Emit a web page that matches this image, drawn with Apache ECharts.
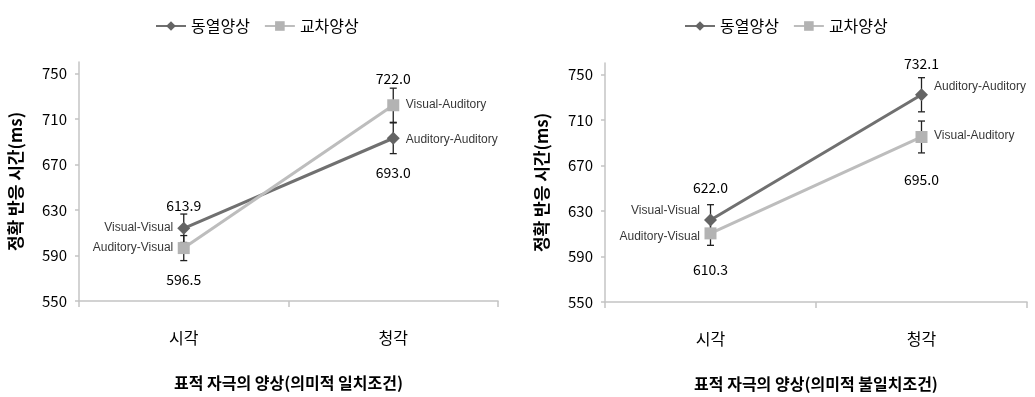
<!DOCTYPE html>
<html>
<head>
<meta charset="utf-8">
<script src="https://cdn.jsdelivr.net/npm/echarts@6/dist/echarts.min.js"></script>
<style>
  html, body { margin: 0; padding: 0; background: #fff; }
  #chart { width: 1035px; height: 397px; }
</style>
</head>
<body>
<div id="chart"></div>
<script>
// 공통 축 정보
const categories = ['시각', '청각'];
const seriesNames = ['동열양상', '교차양상'];
const yTicks = [550, 590, 630, 670, 710, 750];
const yTitle = '정확 반응 시간(ms)';
const xTitles = ['표적 자극의 양상(의미적 일치조건)', '표적 자극의 양상(의미적 불일치조건)'];

// 의미적 일치조건 (평균, 오차)
const congruentSame = [613.9, 693.0];
const congruentCross = [596.5, 722.0];
const congruentSameErr = [12.5, 13.5];
const congruentCrossErr = [11, 15];
const congruentSameNames = ['Visual-Visual', 'Auditory-Auditory'];
const congruentCrossNames = ['Auditory-Visual', 'Visual-Auditory'];

// 의미적 불일치조건 (평균, 오차)
const incongruentSame = [622.0, 732.1];
const incongruentCross = [610.3, 695.0];
const incongruentSameErr = [13.5, 15];
const incongruentCrossErr = [10.5, 14];
const incongruentSameNames = ['Visual-Visual', 'Auditory-Auditory'];
const incongruentCrossNames = ['Auditory-Visual', 'Visual-Auditory'];

// 라벨 배치 (값 라벨의 세로 이동, 조건명 라벨의 세로 이동)
const layout = [
  { sameValDy: [-23, 34], crossValDy: [32, -27], sameNameDy: [-1, 1], crossNameDy: [0, -1] },
  { sameValDy: [-32, -31], crossValDy: [36, 43], sameNameDy: [-9, -8], crossNameDy: [3, -1] }
];

const panels = [
  { same: congruentSame, cross: congruentCross, sameErr: congruentSameErr, crossErr: congruentCrossErr,
    sameNames: congruentSameNames, crossNames: congruentCrossNames },
  { same: incongruentSame, cross: incongruentCross, sameErr: incongruentSameErr, crossErr: incongruentCrossErr,
    sameNames: incongruentSameNames, crossNames: incongruentCrossNames }
];

const KR = '"Noto Sans CJK KR", "Noto Sans", sans-serif';
const EN = '"Liberation Sans", Arial, sans-serif';
const SAME_LINE = '#707070', SAME_MARK = '#646464';
const CROSS_LINE = '#bdbdbd', CROSS_MARK = '#b3b3b3';
const AXIS_COLOR = '#c4c4c4';

function lineSeries(idx, name, values, valDy, color, markColor, symbol, size) {
  return {
    type: 'line', name, xAxisIndex: idx, yAxisIndex: idx, z: 3,
    symbol, symbolSize: size, showAllSymbol: true,
    lineStyle: { color, width: 3 },
    itemStyle: { color: markColor },
    data: values.map((v, i) => ({
      value: v,
      label: {
        show: true, position: 'inside', offset: [0, valDy[i]],
        formatter: () => v.toFixed(1),
        fontFamily: KR, fontSize: 14, color: '#000'
      }
    }))
  };
}

function nameLabelSeries(idx, values, names, dys) {
  return {
    type: 'scatter', xAxisIndex: idx, yAxisIndex: idx, z: 4, silent: true,
    symbolSize: 1, itemStyle: { color: 'rgba(0,0,0,0)' },
    data: values.map((v, i) => ({
      value: [i, v],
      label: {
        show: true, position: i === 0 ? 'left' : 'right', distance: i === 0 ? 10 : 12,
        offset: [0, dys[i]], formatter: names[i],
        fontFamily: EN, fontSize: 12, color: '#000'
      }
    }))
  };
}

function errorBarSeries(idx, values, errs) {
  return {
    type: 'custom', xAxisIndex: idx, yAxisIndex: idx, z: 2, silent: true,
    data: values.map((v, i) => [i, v - errs[i], v + errs[i]]),
    encode: { x: 0, y: [1, 2] },
    renderItem(params, api) {
      const x = api.value(0);
      const lo = api.coord([x, api.value(1)]);
      const hi = api.coord([x, api.value(2)]);
      const w = 3.5;
      const style = { stroke: '#222', lineWidth: 1.3 };
      return {
        type: 'group',
        children: [
          { type: 'line', shape: { x1: lo[0], y1: lo[1], x2: hi[0], y2: hi[1] }, style },
          { type: 'line', shape: { x1: lo[0] - w, y1: lo[1], x2: lo[0] + w, y2: lo[1] }, style },
          { type: 'line', shape: { x1: hi[0] - w, y1: hi[1], x2: hi[0] + w, y2: hi[1] }, style }
        ]
      };
    }
  };
}

const grids = [
  { left: 79, top: 62, width: 419, height: 239 },
  { left: 605, top: 63, width: 422, height: 240 }
];

const series = [];
panels.forEach((p, idx) => {
  const L = layout[idx];
  series.push(errorBarSeries(idx, p.same, p.sameErr));
  series.push(errorBarSeries(idx, p.cross, p.crossErr));
  series.push(lineSeries(idx, seriesNames[0], p.same, L.sameValDy, SAME_LINE, SAME_MARK, 'diamond', 13));
  series.push(lineSeries(idx, seriesNames[1], p.cross, L.crossValDy, CROSS_LINE, CROSS_MARK, 'rect', 12));
  series.push(nameLabelSeries(idx, p.same, p.sameNames, L.sameNameDy));
  series.push(nameLabelSeries(idx, p.cross, p.crossNames, L.crossNameDy));
});

const legendBase = {
  top: 13, itemWidth: 30, itemHeight: 12, itemGap: 14,
  data: seriesNames,
  textStyle: { fontFamily: KR, fontSize: 16, color: '#000' }
};

const option = {
  backgroundColor: '#fff',
  animation: false,
  legend: [
    Object.assign({ left: 150 }, legendBase),
    Object.assign({ left: 679 }, legendBase)
  ],
  grid: grids,
  xAxis: grids.map((g, idx) => ({
    type: 'category', gridIndex: idx, data: categories, boundaryGap: true,
    axisLine: { lineStyle: { color: AXIS_COLOR, width: 1.5 } },
    axisTick: { show: true, length: 6, lineStyle: { color: AXIS_COLOR, width: 1.5 } },
    axisLabel: { margin: 29, fontFamily: KR, fontSize: 16, color: '#000' },
    name: xTitles[idx], nameLocation: 'middle', nameGap: 74,
    nameTextStyle: { fontFamily: KR, fontSize: 16, fontWeight: 'bold', color: '#000' }
  })),
  yAxis: grids.map((g, idx) => ({
    type: 'value', gridIndex: idx, min: 550, max: 760,
    splitLine: { show: false },
    axisLine: { show: true, lineStyle: { color: AXIS_COLOR, width: 1.5 } },
    axisTick: { show: true, length: 4, customValues: yTicks, lineStyle: { color: AXIS_COLOR, width: 1.5 } },
    axisLabel: { customValues: yTicks, margin: 12, fontFamily: KR, fontSize: 15, color: '#000' },
    name: yTitle, nameLocation: 'middle', nameGap: 55, nameRotate: 90,
    nameTextStyle: { fontFamily: KR, fontSize: 17, fontWeight: 'bold', color: '#000' }
  })),
  series
};

const chart = echarts.init(document.getElementById('chart'), null, { renderer: 'canvas' });
chart.setOption(option);
</script>
</body>
</html>
